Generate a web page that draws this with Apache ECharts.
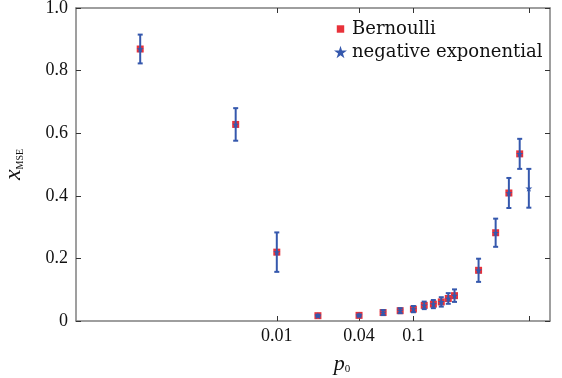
<!DOCTYPE html>
<html>
<head>
<meta charset="utf-8">
<script src="https://cdn.jsdelivr.net/npm/echarts@6/dist/echarts.min.js"></script>
<style>html,body{margin:0;padding:0;background:#fff}#c{width:562px;height:378px}</style>
</head>
<body>
<div id="c"></div>
<script>
// ---- data ----
const pBernoulli = [0.001, 0.005, 0.01, 0.02, 0.04, 0.06, 0.08, 0.1, 0.12, 0.14, 0.16, 0.18, 0.2, 0.3, 0.4, 0.5, 0.6];
const bernoulli  = [0.869, 0.628, 0.220, 0.017, 0.018, 0.027, 0.033, 0.038, 0.050, 0.054, 0.061, 0.072, 0.081, 0.162, 0.282, 0.409, 0.534];
const pNegExp    = [0.001, 0.005, 0.01, 0.02, 0.04, 0.06, 0.08, 0.1, 0.12, 0.14, 0.16, 0.18, 0.2, 0.3, 0.4, 0.5, 0.6, 0.7];
const negExp     = [0.869, 0.628, 0.220, 0.017, 0.018, 0.027, 0.033, 0.038, 0.050, 0.054, 0.061, 0.072, 0.081, 0.162, 0.282, 0.409, 0.534, 0.424];
const errNegExp  = [0.046, 0.052, 0.063, 0.003, 0.003, 0.008, 0.008, 0.010, 0.012, 0.013, 0.015, 0.017, 0.020, 0.037, 0.045, 0.048, 0.048, 0.062];
const xTickValues  = [0.01, 0.04, 0.1, 0.7];
const xLabelValues = [0.01, 0.04, 0.1];
const xLabelTexts  = ['0.01', '0.04', '0.1'];
const seriesNames  = ['Bernoulli', 'negative exponential'];

const RED = '#e8323a', BLUE = '#3558ad', AXIS = '#7f7f7f';
const STAR = 'path://M50,0 L61,35 L98,35 L68,57 L79,91 L50,70 L21,91 L32,57 L2,35 L39,35 Z';
const SQUARE_ICON = 'path://M0,0M14,14M3,3h8v8h-8z';

const fmtX = v => {
  for (let i = 0; i < xLabelValues.length; i++) {
    if (Math.abs(Math.log10(v) - Math.log10(xLabelValues[i])) < 1e-6) return xLabelTexts[i];
  }
  return '';
};

const bData = pBernoulli.map((p, i) => [p, bernoulli[i]]);
const nData = pNegExp.map((p, i) => [p, negExp[i]]);
const eData = pNegExp.map((p, i) => [p, negExp[i] - errNegExp[i], negExp[i] + errNegExp[i]]);

const chart = echarts.init(document.getElementById('c'), null, {renderer: 'canvas'});
const xCommon = {
  type: 'log', logBase: 10, min: Math.pow(10, -3.47), max: 1,
  axisLine: {show: true, onZero: false, lineStyle: {color: AXIS, width: 1.5}},
  splitLine: {show: false}, minorTick: {show: false}
};
const yCommon = {
  type: 'value', min: 0, max: 1, interval: 0.2,
  axisLine: {show: true, onZero: false, lineStyle: {color: AXIS, width: 1.5}},
  splitLine: {show: false}
};
chart.setOption({
  animation: false,
  backgroundColor: '#fff',
  grid: {left: 76, right: 12, top: 8, bottom: 57, containLabel: false, outerBoundsMode: 'none'},
  legend: {
    orient: 'vertical', left: 329, top: 15, itemGap: 5, itemWidth: 13, itemHeight: 13,
    textStyle: {fontFamily: 'DejaVu Serif', fontSize: 18, color: '#111'},
    data: [
      {name: seriesNames[0], icon: SQUARE_ICON, itemStyle: {color: RED}},
      {name: seriesNames[1], icon: STAR, itemStyle: {color: BLUE}}
    ]
  },
  xAxis: [
    Object.assign({}, xCommon, {
      position: 'bottom',
      axisTick: {show: true, inside: true, length: 5, customValues: xTickValues, lineStyle: {color: '#333'}},
      axisLabel: {show: true, customValues: xLabelValues, formatter: fmtX, margin: 6,
        fontFamily: 'Liberation Serif', fontSize: 18, color: '#111'},
      name: '{i|p}{s|0}', nameLocation: 'middle', nameGap: 32,
      nameTextStyle: {padding: [0, 0, 0, 58], rich: {
        i: {fontFamily: 'Liberation Serif', fontStyle: 'italic', fontSize: 22, color: '#111'},
        s: {fontFamily: 'Liberation Serif', fontSize: 11, color: '#111', padding: [10, 0, 0, 0]}
      }}
    }),
    Object.assign({}, xCommon, {
      position: 'top',
      axisTick: {show: true, inside: true, length: 5, customValues: xTickValues, lineStyle: {color: '#333'}},
      axisLabel: {show: false}
    })
  ],
  yAxis: [
    Object.assign({}, yCommon, {
      position: 'left',
      axisTick: {show: true, inside: true, length: 5, lineStyle: {color: '#333'}},
      axisLabel: {show: true, margin: 8, fontFamily: 'Liberation Serif', fontSize: 18, color: '#111',
        formatter: v => (v === 0 ? '0' : v.toFixed(1))},
      name: '{i|x}{s|MSE}', nameLocation: 'middle', nameGap: 50, nameRotate: 90,
      nameTextStyle: {rich: {
        i: {fontFamily: 'Liberation Serif', fontStyle: 'italic', fontSize: 24, color: '#111'},
        s: {fontFamily: 'Liberation Serif', fontSize: 10, color: '#111', padding: [12, 0, 0, 0]}
      }}
    }),
    Object.assign({}, yCommon, {
      position: 'right',
      axisTick: {show: true, inside: true, length: 5, lineStyle: {color: '#333'}},
      axisLabel: {show: false}
    })
  ],
  series: [
    {
      name: seriesNames[0], type: 'scatter', xAxisIndex: 0, yAxisIndex: 0,
      symbol: 'rect', symbolSize: 7, itemStyle: {color: RED, opacity: 1}, z: 2,
      data: bData
    },
    {
      name: seriesNames[1], type: 'scatter', xAxisIndex: 0, yAxisIndex: 0,
      symbol: STAR, symbolSize: 7, itemStyle: {color: BLUE, opacity: 1}, z: 3,
      data: nData
    },
    {
      name: 'err', type: 'custom', xAxisIndex: 0, yAxisIndex: 0, z: 4,
      encode: {x: 0, y: [1, 2]},
      data: eData,
      renderItem: (params, api) => {
        const x = api.value(0);
        const lo = api.coord([x, api.value(1)]);
        const hi = api.coord([x, api.value(2)]);
        const w = 2.5;
        const st = {stroke: BLUE, lineWidth: 2, fill: null};
        return {type: 'group', children: [
          {type: 'line', shape: {x1: lo[0], y1: lo[1], x2: hi[0], y2: hi[1]}, style: st},
          {type: 'line', shape: {x1: lo[0] - w, y1: lo[1], x2: lo[0] + w, y2: lo[1]}, style: st},
          {type: 'line', shape: {x1: hi[0] - w, y1: hi[1], x2: hi[0] + w, y2: hi[1]}, style: st}
        ]};
      }
    }
  ]
});
</script>
</body>
</html>
